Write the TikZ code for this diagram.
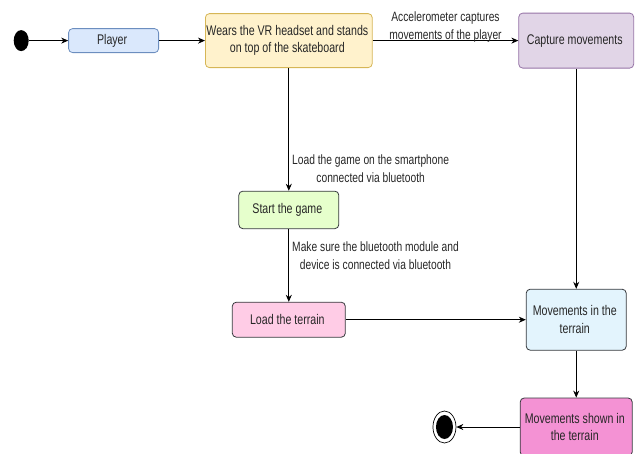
\documentclass[tikz,border=0pt]{standalone}
\usepackage{fontspec}
\setmainfont{Liberation Sans}[FakeStretch=0.76]
\usepackage{tikz}
\usetikzlibrary{matrix,shapes.geometric,arrows.meta}
\definecolor{playerfill}{HTML}{DAE8FC}
\definecolor{playerline}{HTML}{6C8EBF}
\definecolor{wearsfill}{HTML}{FFF2CC}
\definecolor{wearsline}{HTML}{D6B656}
\definecolor{capfill}{HTML}{E1D5E7}
\definecolor{capline}{HTML}{9673A6}
\definecolor{gamefill}{HTML}{E6FFCC}
\definecolor{terrfill}{HTML}{FFCCE6}
\definecolor{movefill}{HTML}{E3F4FD}
\definecolor{shownfill}{HTML}{F492D4}
\definecolor{darkline}{HTML}{36393D}
\newcommand{\txt}{\fontsize{14}{17.5}\selectfont}
\newcommand{\twol}[2]{\vbox{\halign{\hfil##\hfil\cr#1\cr#2\cr}}}

\begin{document}
\begin{tikzpicture}[x=1pt,y=1pt,
    state/.style={draw=darkline,rounded corners=4pt,align=center,line width=0.8pt,
      text=black!85,font=\txt,inner sep=1pt},
    lbl/.style={align=center,text=black!85,font=\fontsize{13.5}{18}\selectfont,inner sep=3pt},
    arr/.style={-{Stealth[length=7pt,width=6pt]},line width=0.8pt}]
  \useasboundingbox (0,0) rectangle (636,-453);
  \matrix[matrix of nodes,inner sep=0pt,anchor=north west,column sep=0pt,row sep=0pt,
      nodes={anchor=center}] at (13.5,-12.5) {
    |[ellipse,fill=black,minimum width=15,minimum height=21,inner sep=0pt] (s)| &[39.5pt]
      |[state,fill=playerfill,draw=playerline,minimum width=90,minimum height=24] (p)| Player &[46pt]
      |[state,fill=wearsfill,draw=wearsline,minimum width=166,minimum height=54] (w)| \twol{Wears the VR headset and stands}{on top of the skateboard} &[60pt]
      &[62pt]
      |[state,fill=capfill,draw=capline,minimum width=115,minimum height=55] (c)| Capture movements \\[122.25pt]
    & & |[state,fill=gamefill,minimum width=100,minimum height=37.5] (g)| Start the game & & \\[59.75pt]
    & & |[state,fill=terrfill,minimum width=113,minimum height=35] (l)| Load the terrain & &
      |[state,fill=movefill,minimum width=100,minimum height=61] (m)| \twol{Movements in the}{terrain} \\[47pt]
    & & & |[ellipse,draw,fill=white,line width=0.7pt,minimum width=23,minimum height=32,inner sep=0pt,
        path picture={\fill[black] (path picture bounding box.center) ellipse (8.5 and 12);}] (e)| &
      |[state,fill=shownfill,minimum width=112,minimum height=58] (f)| \twol{Movements shown in}{the terrain} \\
  };
  \path[arr]
  (s) edge (p)
  (p) edge (w)
  (w) edge node[above=-5pt,lbl] {Accelerometer captures\\movements of the player} (c)
      edge node[right,lbl,pos=0.82] {Load the game on the smartphone\\connected via bluetooth} (g)
  (g) edge node[right,lbl,pos=0.37] {Make sure the bluetooth module and\\device is connected via bluetooth} (l)
  (c) edge (m)
  (l) edge (m)
  (m) edge (f)
  (f) edge (e)
  ;
\end{tikzpicture}
\end{document}
